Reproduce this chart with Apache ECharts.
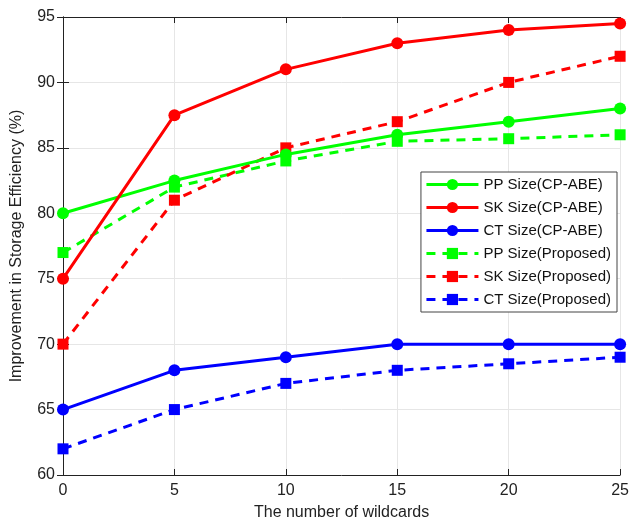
<!DOCTYPE html>
<html>
<head>
<meta charset="utf-8">
<script src="https://cdn.jsdelivr.net/npm/echarts@6/dist/echarts.min.js"></script>
<style>
  html, body { margin: 0; padding: 0; background: #fff; }
  #chart { width: 632px; height: 528px; }
</style>
</head>
<body>
<div id="chart"></div>
<script>
const wildcards = [0, 5, 10, 15, 20, 25];
const ppCpabe = [80, 82.5, 84.5, 86, 87, 88];
const skCpabe = [75, 87.5, 91, 93, 94, 94.5];
const ctCpabe = [65, 68, 69, 70, 70, 70];
const ppProposed = [77, 82, 84, 85.5, 85.7, 86];
const skProposed = [70, 81, 85, 87, 90, 92];
const ctProposed = [62, 65, 67, 68, 68.5, 69];

const pairs = ys => wildcards.map((x, i) => [x, ys[i]]);

// one line series, solid + circle or dashed + square
function makeSeries(name, ys, color, dashed) {
  return {
    name: name,
    type: 'line',
    data: pairs(ys),
    symbol: dashed ? 'rect' : 'circle',
    symbolSize: dashed ? 11 : 12,
    lineStyle: { color: color, width: 3, type: dashed ? [9, 7] : 'solid' },
    itemStyle: { color: color },
    emphasis: { disabled: true },
    z: dashed ? 2 : 3
  };
}

const font = 'Liberation Sans, Arial, sans-serif';
const chart = echarts.init(document.getElementById('chart'));

const axisCommon = {
  axisLine: { show: true, lineStyle: { color: '#222', width: 1 } },
  axisTick: { show: true, inside: true, length: 6, lineStyle: { color: '#222' } }
};

chart.setOption({
  animation: false,
  grid: { left: 63, right: 10, top: 17, bottom: 53 },
  legend: {
    orient: 'vertical',
    right: 15,
    top: 172,
    itemWidth: 52,
    itemHeight: 14,
    itemGap: 8,
    padding: [5, 6, 5, 4],
    backgroundColor: '#fff',
    borderColor: '#444',
    borderWidth: 1,
    lineStyle: { width: 3 },
    textStyle: { fontFamily: font, fontSize: 15, color: '#111' },
    data: ['PP Size(CP-ABE)', 'SK Size(CP-ABE)', 'CT Size(CP-ABE)',
           'PP Size(Proposed)', 'SK Size(Proposed)', 'CT Size(Proposed)']
  },
  xAxis: [
    Object.assign({
      type: 'value', min: 0, max: 25, interval: 5,
      name: 'The number of wildcards',
      nameLocation: 'middle', nameGap: 30,
      nameTextStyle: { fontFamily: font, fontSize: 16, color: '#222' },
      axisLabel: { fontFamily: font, fontSize: 16, color: '#222', margin: 8 },
      splitLine: { show: true, lineStyle: { color: '#e6e6e6' } }
    }, axisCommon),
    Object.assign({
      type: 'value', min: 0, max: 25, interval: 5, position: 'top',
      axisLabel: { show: false }, splitLine: { show: false }
    }, axisCommon)
  ],
  yAxis: [
    Object.assign({
      type: 'value', min: 60, max: 95, interval: 5,
      name: 'Improvement in Storage Efficiency (%)',
      nameLocation: 'middle', nameGap: 38,
      nameTextStyle: { fontFamily: font, fontSize: 16, color: '#222' },
      axisLabel: { fontFamily: font, fontSize: 16, color: '#222', margin: 8 },
      splitLine: { show: true, lineStyle: { color: '#e6e6e6' } }
    }, axisCommon),
    Object.assign({
      type: 'value', min: 60, max: 95, interval: 5, position: 'right',
      axisLabel: { show: false }, splitLine: { show: false }
    }, axisCommon)
  ],
  series: [
    makeSeries('PP Size(CP-ABE)', ppCpabe, '#00ff00', false),
    makeSeries('SK Size(CP-ABE)', skCpabe, '#ff0000', false),
    makeSeries('CT Size(CP-ABE)', ctCpabe, '#0000ff', false),
    makeSeries('PP Size(Proposed)', ppProposed, '#00ff00', true),
    makeSeries('SK Size(Proposed)', skProposed, '#ff0000', true),
    makeSeries('CT Size(Proposed)', ctProposed, '#0000ff', true)
  ]
});
</script>
</body>
</html>
